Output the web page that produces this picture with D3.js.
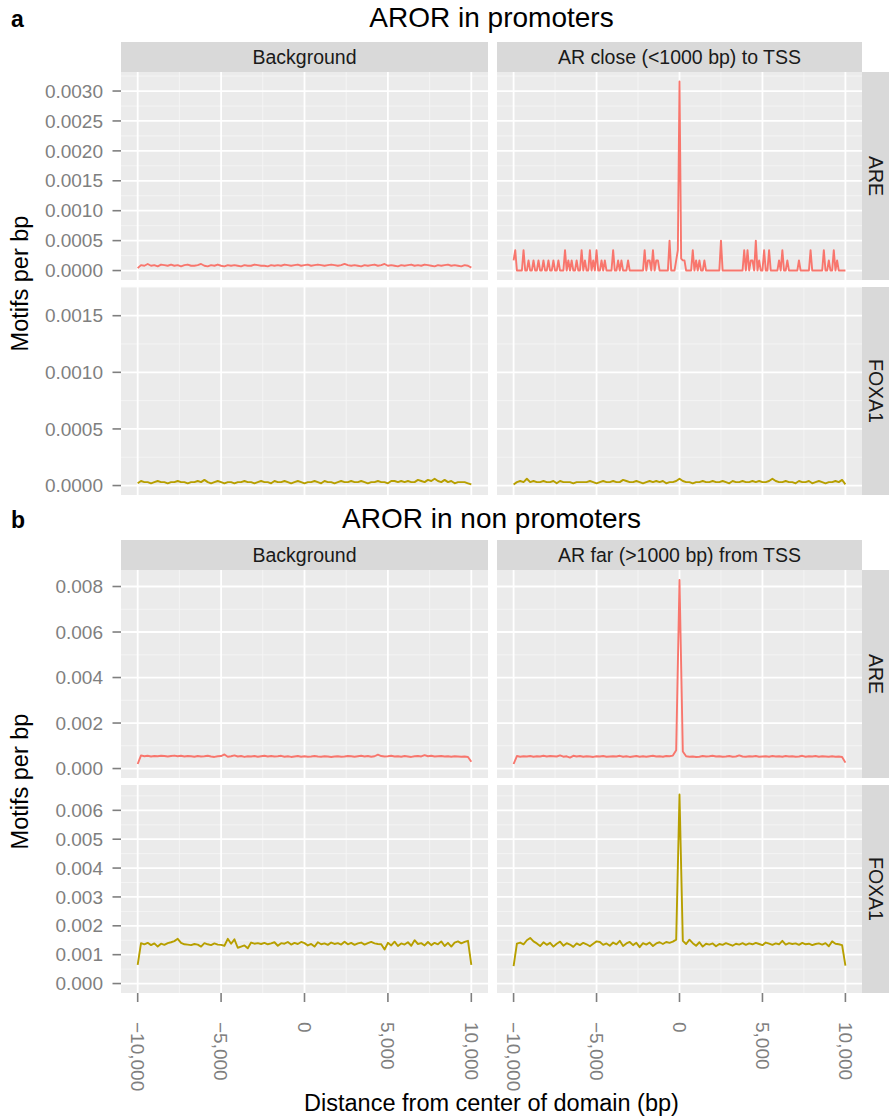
<!DOCTYPE html>
<html>
<head>
<meta charset="utf-8">
<script src="https://cdn.jsdelivr.net/npm/d3@7"></script>
<style>
  body { margin: 0; background: #fff; }
  svg { display: block; font-family: "Liberation Sans", Arial, Helvetica, sans-serif; }
</style>
</head>
<body>
<script>
// *******************//
//        data         //
// *******************//

// bin centres, bp from the centre of the domain
const binsCoarse = d3.range(-10000, 10001, 200);  // 101 bins
const binsFine = d3.range(-10000, 10001, 100);    // 201 bins

const motifs = ["ARE", "FOXA1"];
const motifColors = ["#F8766D", "#B79F00"];
const xTicks = [-10000, -5000, 0, 5000, 10000];

// ---- a: AROR in promoters ----
const promoterColumns = ["Background", "AR close (<1000 bp) to TSS"];
const promoterYMax = [0.00316, 0.00167];
const promoterYTicks = [
  [0, 0.0005, 0.001, 0.0015, 0.002, 0.0025, 0.003],
  [0, 0.0005, 0.001, 0.0015]
];

const areBgPromoter = [
  0.00004, 0.00009, 0.00008, 0.00011, 0.00008, 0.00009, 0.00007, 0.00010, 0.00009, 0.00008,
  0.00010, 0.00008, 0.00009, 0.00007, 0.00009, 0.00010, 0.00008, 0.00008, 0.00009, 0.00011,
  0.00008, 0.00007, 0.00009, 0.00008, 0.00010, 0.00008, 0.00007, 0.00009, 0.00008, 0.00009,
  0.00008, 0.00007, 0.00009, 0.00008, 0.00008, 0.00010, 0.00009, 0.00008, 0.00008, 0.00007,
  0.00009, 0.00008, 0.00009, 0.00008, 0.00010, 0.00009, 0.00008, 0.00009, 0.00010, 0.00008,
  0.00009, 0.00010, 0.00008, 0.00009, 0.00010, 0.00009, 0.00008, 0.00009, 0.00010, 0.00009,
  0.00008, 0.00009, 0.00011, 0.00009, 0.00008, 0.00009, 0.00008, 0.00007, 0.00009, 0.00008,
  0.00009, 0.00010, 0.00008, 0.00009, 0.00011, 0.00008, 0.00009, 0.00008, 0.00007, 0.00009,
  0.00008, 0.00009, 0.00010, 0.00008, 0.00009, 0.00008, 0.00010, 0.00009, 0.00008, 0.00007,
  0.00009, 0.00008, 0.00009, 0.00010, 0.00008, 0.00009, 0.00008, 0.00007, 0.00009, 0.00008,
  0.00005
];

const arePromoter = [
  0.00017, 0.00034, 0, 0, 0, 0, 0.00034, 0, 0, 0.00017, 0, 0, 0.00017, 0, 0, 0.00017, 0, 0, 0.00017, 0,
  0, 0.00017, 0, 0, 0.00017, 0, 0, 0.00017, 0, 0, 0, 0.00034, 0, 0.00017, 0, 0.00017, 0, 0, 0.00017, 0,
  0, 0.00034, 0, 0.00017, 0, 0, 0.00034, 0, 0.00017, 0, 0.00034, 0, 0, 0.00017, 0, 0.00017, 0, 0, 0, 0,
  0.00034, 0, 0, 0.00017, 0, 0.00017, 0, 0, 0, 0.00017, 0, 0, 0, 0, 0, 0, 0, 0, 0, 0.00034,
  0, 0.00017, 0.00017, 0, 0.00034, 0, 0.00017, 0.00017, 0, 0, 0, 0, 0, 0, 0.0005, 0, 0, 0, 0.00017, 0.00034,
  0.00316, 0.0002, 0.00017, 0.00017, 0, 0, 0, 0, 0.00034, 0, 0.00017, 0, 0.00017, 0, 0, 0.00017, 0, 0, 0, 0,
  0, 0, 0, 0, 0, 0.0005, 0, 0, 0, 0, 0, 0, 0, 0, 0, 0, 0, 0, 0, 0.00034,
  0, 0.00034, 0, 0.00017, 0.00017, 0, 0.0005, 0, 0.00017, 0, 0, 0.00034, 0, 0, 0.00034, 0, 0, 0, 0, 0,
  0.00017, 0, 0.00034, 0, 0, 0.00017, 0, 0, 0, 0, 0, 0, 0.00017, 0, 0, 0, 0, 0, 0, 0.00034,
  0, 0, 0, 0, 0, 0, 0, 0.00034, 0, 0, 0.00017, 0, 0, 0.00034, 0, 0.00017, 0, 0, 0, 0,
  0
];

const foxBgPromoter = [
  0.00002, 0.00004, 0.00003, 0.00003, 0.00002, 0.00003, 0.00004, 0.00003, 0.00003, 0.00002,
  0.00003, 0.00003, 0.00004, 0.00003, 0.00003, 0.00002, 0.00003, 0.00003, 0.00004, 0.00003,
  0.00005, 0.00003, 0.00002, 0.00003, 0.00004, 0.00003, 0.00002, 0.00003, 0.00003, 0.00002,
  0.00003, 0.00003, 0.00004, 0.00003, 0.00003, 0.00002, 0.00003, 0.00004, 0.00003, 0.00003,
  0.00002, 0.00004, 0.00003, 0.00003, 0.00004, 0.00003, 0.00002, 0.00003, 0.00004, 0.00003,
  0.00002, 0.00003, 0.00003, 0.00004, 0.00003, 0.00002, 0.00004, 0.00003, 0.00003, 0.00002,
  0.00003, 0.00004, 0.00003, 0.00003, 0.00004, 0.00003, 0.00003, 0.00004, 0.00003, 0.00002,
  0.00003, 0.00003, 0.00004, 0.00003, 0.00003, 0.00002, 0.00004, 0.00004, 0.00003, 0.00004,
  0.00003, 0.00004, 0.00003, 0.00003, 0.00005, 0.00004, 0.00003, 0.00005, 0.00004, 0.00006,
  0.00004, 0.00003, 0.00005, 0.00003, 0.00004, 0.00002, 0.00003, 0.00003, 0.00003, 0.00002,
  0.00001
];

const foxPromoter = [
  0.00001, 0.00003, 0.00004, 0.00003, 0.00006, 0.00003, 0.00004, 0.00003, 0.00003, 0.00004,
  0.00003, 0.00003, 0.00004, 0.00002, 0.00004, 0.00003, 0.00003, 0.00003, 0.00002, 0.00003,
  0.00003, 0.00003, 0.00003, 0.00004, 0.00003, 0.00002, 0.00003, 0.00004, 0.00003, 0.00003,
  0.00004, 0.00003, 0.00003, 0.00005, 0.00004, 0.00003, 0.00003, 0.00004, 0.00003, 0.00002,
  0.00003, 0.00004, 0.00003, 0.00004, 0.00003, 0.00004, 0.00002, 0.00003, 0.00003, 0.00004,
  0.00006, 0.00004, 0.00003, 0.00003, 0.00002, 0.00003, 0.00003, 0.00004, 0.00003, 0.00003,
  0.00004, 0.00003, 0.00003, 0.00004, 0.00003, 0.00002, 0.00004, 0.00003, 0.00003, 0.00004,
  0.00003, 0.00003, 0.00004, 0.00003, 0.00004, 0.00003, 0.00003, 0.00004, 0.00006, 0.00004,
  0.00003, 0.00003, 0.00004, 0.00003, 0.00003, 0.00002, 0.00004, 0.00003, 0.00003, 0.00004,
  0.00002, 0.00003, 0.00004, 0.00003, 0.00002, 0.00003, 0.00003, 0.00004, 0.00003, 0.00005,
  0.00001
];

// ---- b: AROR in non promoters ----
const distalColumns = ["Background", "AR far (>1000 bp) from TSS"];
const distalYMax = [0.00831, 0.00655];
const distalYTicks = [
  [0, 0.002, 0.004, 0.006, 0.008],
  [0, 0.001, 0.002, 0.003, 0.004, 0.005, 0.006]
];

const areBgDistal = [
  0.00020, 0.00058, 0.00054, 0.00056, 0.00053, 0.00055, 0.00054, 0.00056, 0.00055, 0.00053,
  0.00055, 0.00057, 0.00054, 0.00056, 0.00053, 0.00055, 0.00054, 0.00052, 0.00055, 0.00053,
  0.00054, 0.00056, 0.00053, 0.00051, 0.00054, 0.00055, 0.00062, 0.00052, 0.00054, 0.00058,
  0.00053, 0.00055, 0.00051, 0.00054, 0.00053, 0.00055, 0.00052, 0.00054, 0.00056, 0.00053,
  0.00055, 0.00053, 0.00054, 0.00056, 0.00052, 0.00054, 0.00051, 0.00053, 0.00055, 0.00052,
  0.00054, 0.00052, 0.00053, 0.00055, 0.00053, 0.00052, 0.00054, 0.00053, 0.00051, 0.00053,
  0.00054, 0.00052, 0.00053, 0.00055, 0.00054, 0.00052, 0.00054, 0.00056, 0.00053, 0.00055,
  0.00052, 0.00054, 0.00061, 0.00055, 0.00053, 0.00054, 0.00056, 0.00053, 0.00054, 0.00052,
  0.00055, 0.00053, 0.00051, 0.00054, 0.00055, 0.00053, 0.00059, 0.00054, 0.00056, 0.00053,
  0.00054, 0.00055, 0.00053, 0.00054, 0.00052, 0.00054, 0.00053, 0.00052, 0.00053, 0.00051,
  0.00030
];

const areDistal = [
  0.00020, 0.00055, 0.00052, 0.00054, 0.00053, 0.00055, 0.00052, 0.00054, 0.00053, 0.00056,
  0.00053, 0.00055, 0.00054, 0.00053, 0.00058, 0.00052, 0.00054, 0.00048, 0.00056, 0.00053,
  0.00055, 0.00052, 0.00054, 0.00053, 0.00051, 0.00054, 0.00053, 0.00055, 0.00052, 0.00053,
  0.00054, 0.00053, 0.00056, 0.00052, 0.00054, 0.00051, 0.00053, 0.00055, 0.00052, 0.00054,
  0.00052, 0.00054, 0.00056, 0.00053, 0.00054, 0.00052, 0.00055, 0.00054, 0.00057, 0.00080,
  0.00829, 0.00075, 0.00054, 0.00052, 0.00053, 0.00051, 0.00052, 0.00055, 0.00053, 0.00054,
  0.00056, 0.00053, 0.00054, 0.00052, 0.00053, 0.00055, 0.00052, 0.00053, 0.00058, 0.00053,
  0.00052, 0.00054, 0.00053, 0.00055, 0.00052, 0.00053, 0.00054, 0.00052, 0.00055, 0.00053,
  0.00054, 0.00052, 0.00055, 0.00053, 0.00054, 0.00052, 0.00053, 0.00056, 0.00052, 0.00054,
  0.00053, 0.00055, 0.00052, 0.00054, 0.00053, 0.00052, 0.00054, 0.00052, 0.00053, 0.00051,
  0.00026
];

const foxBgDistal = [
  0.00065, 0.00140, 0.00136, 0.00141, 0.00133, 0.00139, 0.00128, 0.00138, 0.00134, 0.00140,
  0.00143, 0.00147, 0.00155, 0.00141, 0.00136, 0.00135, 0.00133, 0.00137, 0.00135, 0.00128,
  0.00140, 0.00136, 0.00133, 0.00139, 0.00135, 0.00134, 0.00131, 0.00155, 0.00138, 0.00153,
  0.00124, 0.00128, 0.00132, 0.00122, 0.00142, 0.00138, 0.00140, 0.00137, 0.00141, 0.00136,
  0.00139, 0.00143, 0.00131, 0.00140, 0.00138, 0.00144, 0.00135, 0.00141, 0.00137, 0.00144,
  0.00140, 0.00132, 0.00137, 0.00128, 0.00143, 0.00136, 0.00139, 0.00134, 0.00142, 0.00137,
  0.00140, 0.00135, 0.00145, 0.00136, 0.00141, 0.00134, 0.00139, 0.00142, 0.00135, 0.00140,
  0.00144, 0.00139, 0.00137, 0.00136, 0.00118, 0.00141, 0.00132, 0.00145, 0.00130, 0.00139,
  0.00135, 0.00143, 0.00131, 0.00150, 0.00137, 0.00140, 0.00132, 0.00144, 0.00133, 0.00141,
  0.00136, 0.00146, 0.00130, 0.00141, 0.00128, 0.00142, 0.00146, 0.00139, 0.00144, 0.00148,
  0.00065
];

const foxDistal = [
  0.00060, 0.00138, 0.00142, 0.00136, 0.00150, 0.00158, 0.00146, 0.00139, 0.00130, 0.00143,
  0.00134, 0.00141, 0.00128, 0.00138, 0.00145, 0.00131, 0.00140, 0.00135, 0.00127, 0.00139,
  0.00133, 0.00141, 0.00136, 0.00129, 0.00138, 0.00146, 0.00144, 0.00134, 0.00139, 0.00131,
  0.00142, 0.00136, 0.00148, 0.00130, 0.00139, 0.00144, 0.00133, 0.00141, 0.00126, 0.00140,
  0.00135, 0.00142, 0.00130, 0.00139, 0.00143, 0.00137, 0.00144, 0.00141, 0.00145, 0.00152,
  0.00655, 0.00148, 0.00137, 0.00152, 0.00140, 0.00131, 0.00143, 0.00128, 0.00138, 0.00135,
  0.00139, 0.00129, 0.00137, 0.00134, 0.00140, 0.00136, 0.00131, 0.00138, 0.00135, 0.00140,
  0.00134, 0.00139, 0.00136, 0.00141, 0.00137, 0.00133, 0.00142, 0.00138, 0.00134, 0.00139,
  0.00136, 0.00148, 0.00135, 0.00140, 0.00137, 0.00139, 0.00134, 0.00141, 0.00136, 0.00138,
  0.00133, 0.00137, 0.00139, 0.00135, 0.00140, 0.00129, 0.00146, 0.00138, 0.00136, 0.00133,
  0.00062
];

// *******************//
//       layout        //
// *******************//
const width = 889, height = 1120;
const colX = [[121, 488], [497, 862]];
const stripH = 30, stripW = 27;
const panelH = 208, rowGap = 7;

const fontTitle = 28, fontStrip = 19.5, fontTick = 19, fontAxis = 23.5, fontLetter = 23;

const svg = d3.select("body").append("svg")
    .attr("width", width)
    .attr("height", height);

const sections = [
  {
    letter: "a", title: "AROR in promoters", top: 42, titleY: 27,
    columns: promoterColumns, yMax: promoterYMax, yTicks: promoterYTicks,
    fmt: d3.format(".4f"), xAxis: false,
    series: [
      [[binsCoarse, areBgPromoter], [binsFine, arePromoter]],
      [[binsCoarse, foxBgPromoter], [binsCoarse, foxPromoter]]
    ]
  },
  {
    letter: "b", title: "AROR in non promoters", top: 540, titleY: 528,
    columns: distalColumns, yMax: distalYMax, yTicks: distalYTicks,
    fmt: d3.format(".3f"), xAxis: true,
    series: [
      [[binsCoarse, areBgDistal], [binsCoarse, areDistal]],
      [[binsCoarse, foxBgDistal], [binsCoarse, foxDistal]]
    ]
  }
];

// midpoints between major ticks that fall inside the domain
function minorTicks(ticks, domain) {
  const step = ticks[1] - ticks[0];
  const out = [ticks[0] - step / 2].concat(ticks.map(t => t + step / 2));
  return out.filter(t => t > domain[0] && t < domain[1]);
}

let clipId = 0;

function drawSection(sec) {
  const g = svg.append("g");
  const panelsLeft = colX[0][0], panelsRight = colX[1][1];

  g.append("text")
      .attr("x", 11).attr("y", sec.titleY)
      .attr("font-size", fontLetter).attr("font-weight", "bold")
      .attr("fill", "#000").text(sec.letter);

  g.append("text")
      .attr("x", (panelsLeft + panelsRight) / 2).attr("y", sec.titleY)
      .attr("text-anchor", "middle")
      .attr("font-size", fontTitle).attr("fill", "#000")
      .text(sec.title);

  const rowsTop = sec.top + stripH;
  const rowsBottom = rowsTop + motifs.length * panelH + (motifs.length - 1) * rowGap;

  // column strips
  sec.columns.forEach((name, c) => {
    g.append("rect")
        .attr("x", colX[c][0]).attr("y", sec.top)
        .attr("width", colX[c][1] - colX[c][0]).attr("height", stripH)
        .attr("fill", "#D9D9D9");
    g.append("text")
        .attr("x", (colX[c][0] + colX[c][1]) / 2).attr("y", sec.top + stripH / 2)
        .attr("dy", "0.35em").attr("text-anchor", "middle")
        .attr("font-size", fontStrip).attr("fill", "#1A1A1A")
        .text(name);
  });

  motifs.forEach((motif, r) => {
    const y0 = rowsTop + r * (panelH + rowGap);
    const yDomain = [-0.05 * sec.yMax[r], 1.05 * sec.yMax[r]];
    const y = d3.scaleLinear().domain(yDomain).range([y0 + panelH, y0]);
    const yMinor = minorTicks(sec.yTicks[r], yDomain);

    sec.columns.forEach((name, c) => {
      const x = d3.scaleLinear().domain([-11000, 11000]).range(colX[c]);
      const xMinor = minorTicks(xTicks, x.domain());
      const p = g.append("g");

      p.append("rect")
          .attr("x", colX[c][0]).attr("y", y0)
          .attr("width", colX[c][1] - colX[c][0]).attr("height", panelH)
          .attr("fill", "#EBEBEB");

      // minor grid
      p.selectAll(null).data(yMinor).join("line")
          .attr("x1", colX[c][0]).attr("x2", colX[c][1])
          .attr("y1", d => y(d)).attr("y2", d => y(d))
          .attr("stroke", "#F5F5F5").attr("stroke-width", 0.9);
      p.selectAll(null).data(xMinor).join("line")
          .attr("x1", d => x(d)).attr("x2", d => x(d))
          .attr("y1", y0).attr("y2", y0 + panelH)
          .attr("stroke", "#F5F5F5").attr("stroke-width", 0.9);

      // major grid
      p.selectAll(null).data(sec.yTicks[r]).join("line")
          .attr("x1", colX[c][0]).attr("x2", colX[c][1])
          .attr("y1", d => y(d)).attr("y2", d => y(d))
          .attr("stroke", "#FFFFFF").attr("stroke-width", 1.8);
      p.selectAll(null).data(xTicks).join("line")
          .attr("x1", d => x(d)).attr("x2", d => x(d))
          .attr("y1", y0).attr("y2", y0 + panelH)
          .attr("stroke", "#FFFFFF").attr("stroke-width", 1.8);

      const id = "clip" + (clipId++);
      svg.append("clipPath").attr("id", id)
        .append("rect")
          .attr("x", colX[c][0]).attr("y", y0)
          .attr("width", colX[c][1] - colX[c][0]).attr("height", panelH);

      const [bins, values] = sec.series[r][c];
      const line = d3.line().x(d => x(d[0])).y(d => y(d[1]));
      p.append("path")
          .datum(d3.zip(bins, values))
          .attr("clip-path", `url(#${id})`)
          .attr("d", line)
          .attr("fill", "none")
          .attr("stroke", motifColors[r])
          .attr("stroke-width", 1.9)
          .attr("stroke-linejoin", "round");

      // y axis on the left column
      if (c === 0) {
        const ax = g.append("g");
        ax.selectAll(null).data(sec.yTicks[r]).join("line")
            .attr("x1", colX[0][0] - 8.5).attr("x2", colX[0][0])
            .attr("y1", d => y(d)).attr("y2", d => y(d))
            .attr("stroke", "#7F7F7F").attr("stroke-width", 1.6);
        ax.selectAll(null).data(sec.yTicks[r]).join("text")
            .attr("x", colX[0][0] - 18).attr("y", d => y(d))
            .attr("dy", "0.35em").attr("text-anchor", "end")
            .attr("font-size", fontTick).attr("fill", "#7F7F7F")
            .text(d => sec.fmt(d));
      }

      // x axis under the last row
      if (sec.xAxis && r === motifs.length - 1) {
        const yb = y0 + panelH;
        const ax = g.append("g");
        ax.selectAll(null).data(xTicks).join("line")
            .attr("x1", d => x(d)).attr("x2", d => x(d))
            .attr("y1", yb).attr("y2", yb + 9)
            .attr("stroke", "#7F7F7F").attr("stroke-width", 1.6);
        ax.selectAll(null).data(xTicks).join("text")
            .attr("transform", d => `translate(${x(d)},${yb + 29}) rotate(90)`)
            .attr("dy", "0.35em").attr("text-anchor", "start")
            .attr("font-size", fontTick).attr("fill", "#7F7F7F")
            .text(d => d3.format(",")(d));
      }
    });

    // row strip on the right
    g.append("rect")
        .attr("x", colX[1][1]).attr("y", y0)
        .attr("width", stripW).attr("height", panelH)
        .attr("fill", "#D9D9D9");
    g.append("text")
        .attr("transform", `translate(${colX[1][1] + stripW / 2},${y0 + panelH / 2}) rotate(90)`)
        .attr("dy", "0.35em").attr("text-anchor", "middle")
        .attr("font-size", fontStrip).attr("fill", "#1A1A1A")
        .text(motif);
  });

  // y axis title
  g.append("text")
      .attr("transform", `translate(28,${(rowsTop + rowsBottom) / 2}) rotate(-90)`)
      .attr("text-anchor", "middle")
      .attr("font-size", fontAxis).attr("fill", "#000")
      .text("Motifs per bp");

  if (sec.xAxis) {
    g.append("text")
        .attr("x", (panelsLeft + panelsRight) / 2).attr("y", 1111)
        .attr("text-anchor", "middle")
        .attr("font-size", fontAxis).attr("fill", "#000")
        .text("Distance from center of domain (bp)");
  }
}

sections.forEach(drawSection);
</script>
</body>
</html>
